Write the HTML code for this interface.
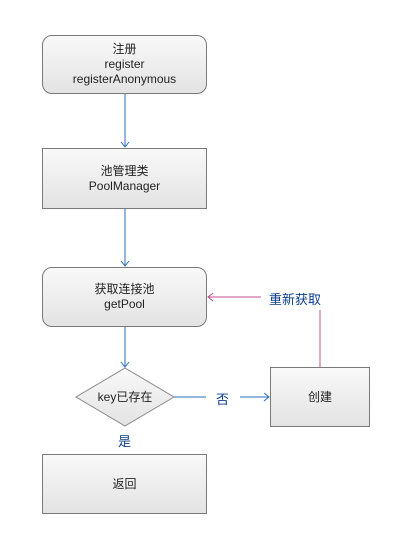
<!DOCTYPE html>
<html><head><meta charset="utf-8"><style>
body{margin:0;background:#fff;width:403px;height:543px;overflow:hidden;font-family:"Liberation Sans","Noto Sans CJK SC",sans-serif;}
.b{position:absolute;box-sizing:border-box;border:1px solid #7a7a7a;background:linear-gradient(#f9f9f9,#e3e3e3);display:flex;flex-direction:column;align-items:center;justify-content:center;font-size:12px;color:#222;line-height:15px;text-align:center;}
.r{border-radius:10px;}
.t{position:absolute;font-size:13px;color:#0b3d91;}
</style></head><body>
<div class="b r" style="left:42px;top:35px;width:165px;height:59px">注册<br>register<br>registerAnonymous</div>
<div class="b" style="left:42px;top:148px;width:165px;height:61px">池管理类<br>PoolManager</div>
<div class="b r" style="left:42px;top:267px;width:165px;height:60px">获取连接池<br>getPool</div>
<div class="b" style="left:270px;top:367px;width:100px;height:60px">创建</div>
<div class="b" style="left:42px;top:454px;width:165px;height:60px">返回</div>
<svg width="403" height="543" style="position:absolute;left:0;top:0">
<defs><linearGradient id="g" x1="0" y1="0" x2="0" y2="1"><stop offset="0" stop-color="#f9f9f9"/><stop offset="1" stop-color="#e3e3e3"/></linearGradient></defs>
<polygon points="125,368 174,397 125,426 76,397" fill="url(#g)" stroke="#8a8a8a"/>
<text x="125" y="401" font-size="12" text-anchor="middle" fill="#222" font-family="Liberation Sans,Noto Sans CJK SC,sans-serif">key已存在</text>
<g stroke="#2a6ebd" fill="none" stroke-width="1">
<line x1="125" y1="94" x2="125" y2="147"/><polyline points="121,142 125,147 129,142"/>
<line x1="125" y1="209" x2="125" y2="266"/><polyline points="121,261 125,266 129,261"/>
<line x1="125" y1="327" x2="125" y2="367"/><polyline points="121,362 125,367 129,362"/>
<line x1="174" y1="397" x2="206" y2="397"/><line x1="240" y1="397" x2="269" y2="397"/><polyline points="264,393 269,397 264,401"/>
</g>
<g stroke="#c0508a" fill="none">
<line x1="320" y1="367" x2="320" y2="310"/>
<line x1="261" y1="297" x2="208" y2="297"/><polyline points="213,293 208,297 213,301"/>
</g>
</svg>
<div class="t" style="left:269px;top:289px">重新获取</div>
<div class="t" style="left:216px;top:389px">否</div>
<div class="t" style="left:118px;top:431px">是</div>
</body></html>
